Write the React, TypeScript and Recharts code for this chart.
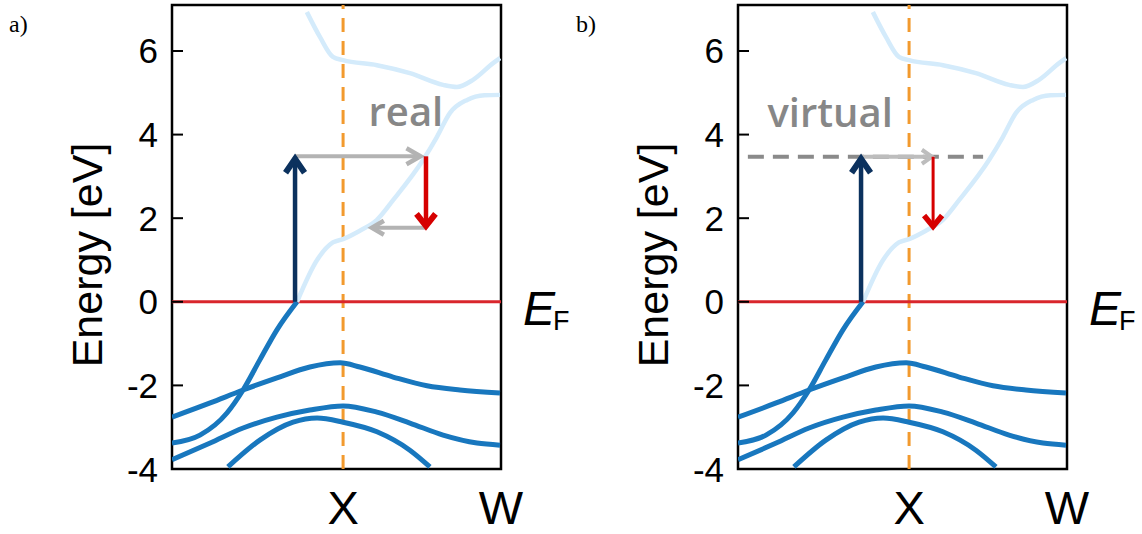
import React from 'react';
import { LineChart, Line, XAxis, YAxis, ReferenceLine, ReferenceArea, ReferenceDot } from 'recharts';

type P = { k: number; e: number };
const pts = (a: number[][]): P[] => a.map(([k, e]) => ({ k, e }));

// ---- axes ----
const kTicks = [0.52, 1.0];
const kTickLabels = ['X', 'W'];
const eTicks = [-4, -2, 0, 2, 4, 6];
const eDomain: [number, number] = [-4, 7.1];
const kDomain: [number, number] = [0, 1];
const kX = 0.52;
const eFermi = 0;

// ---- bands (k fraction of window, energy eV) ----
const bandSteep = [[0, -3.38], [0.085, -3.19], [0.167, -2.66], [0.216, -2.11], [0.267, -1.39], [0.319, -0.67], [0.38, 0]];
const bandCondLow = [[0.38, 0], [0.441, 1.0], [0.489, 1.42], [0.52, 1.5], [0.571, 1.7], [0.623, 1.96], [0.672, 2.43], [0.763, 3.39], [0.805, 3.94], [0.845, 4.52], [0.897, 4.83], [0.95, 4.94], [0.997, 4.95]];
const bandCondHigh = [[0.41, 6.93], [0.45, 6.33], [0.489, 5.86], [0.52, 5.78], [0.623, 5.66], [0.723, 5.47], [0.824, 5.19], [0.866, 5.14], [0.915, 5.31], [0.976, 5.71], [0.997, 5.83]];
const bandVal1 = [[0, -2.76], [0.116, -2.42], [0.216, -2.11], [0.319, -1.82], [0.419, -1.56], [0.511, -1.46], [0.571, -1.56], [0.672, -1.8], [0.775, -2.01], [0.875, -2.11], [0.997, -2.18]];
const bandVal2 = [[0, -3.78], [0.116, -3.38], [0.216, -3.02], [0.319, -2.76], [0.419, -2.59], [0.52, -2.49], [0.623, -2.64], [0.723, -2.9], [0.824, -3.19], [0.927, -3.38], [0.997, -3.43]];
const bandVal3 = [[0.17, -3.95], [0.267, -3.31], [0.368, -2.88], [0.441, -2.78], [0.52, -2.88], [0.623, -3.11], [0.723, -3.55], [0.784, -3.95]];

// ---- panel a: real transitions ----
const realExcite = [[0.374, 0], [0.374, 3.55]];
const realScatter = [[0.374, 3.48], [0.769, 3.48]];
const realRelax = [[0.772, 3.48], [0.772, 1.7]];
const realBack = [[0.772, 1.77], [0.594, 1.77]];
const realLabel = { k: 0.711, e: 4.2, text: 'real' };

// ---- panel b: virtual transitions ----
const virtExcite = [[0.374, 0], [0.374, 3.55]];
const virtLevel = [[0.03, 3.47], [0.745, 3.47]];
const virtScatter = [[0.374, 3.47], [0.6, 3.47]];
const virtRelax = [[0.593, 3.47], [0.593, 1.7]];
const virtLabel = { k: 0.28, e: 4.18, text: 'virtual' };

const C = {
  band: '#1877be',
  light: '#d4ebfb',
  fermi: '#d9262c',
  orange: '#f29a2e',
  navy: '#0b315e',
  gray: '#b3b3b3',
  red: '#d60000',
  text: '#878787',
  dashed: '#8a8a8a',
};

const SANS = '"Liberation Sans", Arial, sans-serif';

function unit(x1: number, y1: number, x2: number, y2: number) {
  const dx = x2 - x1, dy = y2 - y1;
  const L = Math.hypot(dx, dy) || 1;
  return { ux: dx / L, uy: dy / L, px: -dy / L, py: dx / L };
}

// chevron-headed arrow; apex of the stroked head lands on (x2, y2)
const chevronArrow = (color: string, width: number, headWidth: number, len: number, half: number) => (p: any) => {
  const { x1, y1, x2, y2 } = p;
  const { ux, uy, px, py } = unit(x1, y1, x2, y2);
  const th = Math.atan2(half, len);
  const ext = headWidth / 2 / Math.sin(th);
  const vx = x2 - ux * ext, vy = y2 - uy * ext;
  const bx = vx - ux * len, by = vy - uy * len;
  return (
    <g>
      <line x1={x1} y1={y1} x2={vx} y2={vy} stroke={color} strokeWidth={width} />
      <polyline
        points={`${bx + px * half},${by + py * half} ${vx},${vy} ${bx - px * half},${by - py * half}`}
        fill="none"
        stroke={color}
        strokeWidth={headWidth}
        strokeLinejoin="miter"
        strokeMiterlimit={10}
      />
    </g>
  );
};

const dashedLine = (color: string, width: number) => (p: any) => (
  <line x1={p.x1} y1={p.y1} x2={p.x2} y2={p.y2} stroke={color} strokeWidth={width} strokeDasharray="16 9" />
);

const seg = (a: number[][]) => [{ x: a[0][0], y: a[0][1] }, { x: a[1][0], y: a[1][1] }];

const YTick = (props: any) => {
  const { x, y, payload } = props;
  return (
    <g>
      <text x={x} y={y} textAnchor="end" dominantBaseline="central" fontSize={35} fontFamily={SANS} fill="#000">
        {payload.value}
      </text>
      <line x1={x + 14} x2={x + 25} y1={y} y2={y} stroke="#000" strokeWidth={2} />
    </g>
  );
};

const XTick = (props: any) => {
  const { x, y, payload } = props;
  const i = kTicks.indexOf(payload.value);
  return (
    <text x={x} y={y} dy="0.72em" textAnchor="middle" fontSize={47} fontFamily={SANS} fill="#000">
      {kTickLabels[i]}
    </text>
  );
};

const YLabel = (props: any) => {
  const vb = props.viewBox;
  const cx = vb.x + 87;
  const cy = vb.y + vb.height / 2 + 18;
  return (
    <text x={cx} y={cy} transform={`rotate(-90, ${cx}, ${cy})`} textAnchor="middle" dominantBaseline="central" fontSize={43} fontFamily={SANS} fill="#000">
      Energy [eV]
    </text>
  );
};

const FermiLabel = (props: any) => {
  const vb = props.viewBox;
  const x = vb.x + vb.width + 22;
  const y = vb.y + 23;
  return (
    <g>
      <text x={x} y={y} fontSize={48} fontStyle="italic" fontFamily={SANS} fill="#000">E</text>
      <text x={x + 30} y={y + 5} fontSize={27} fontFamily={SANS} fill="#000">F</text>
    </g>
  );
};

const textShape = (text: string) => (p: any) => (
  <text x={p.cx} y={p.cy} textAnchor="middle" fontSize={40} fontWeight={600} fontFamily='"Open Sans", "Noto Sans", sans-serif' fill={C.text}>
    {text}
  </text>
);

function Panel({ kind }: { kind: 'a' | 'b' }) {
  return (
    <LineChart width={570} height={534} margin={{ top: 5, right: 69, bottom: 0, left: 0 }}>
      <XAxis
        type="number"
        dataKey="k"
        domain={kDomain}
        ticks={kTicks}
        allowDataOverflow
        axisLine={false}
        tickLine={false}
        tickSize={0}
        tickMargin={21}
        height={65}
        tick={XTick}
        interval={0}
      />
      <YAxis
        type="number"
        dataKey="e"
        domain={eDomain}
        ticks={eTicks}
        allowDataOverflow
        axisLine={false}
        tickLine={false}
        tickSize={0}
        tickMargin={14}
        width={172}
        tick={YTick}
        interval={0}
        label={{ content: YLabel } as any}
      />
      <ReferenceLine x={kX} stroke={C.orange} strokeWidth={3} strokeDasharray="14 9" />
      <ReferenceLine y={eFermi} stroke={C.fermi} strokeWidth={3} label={{ content: FermiLabel } as any} />
      <Line data={pts(bandCondHigh)} dataKey="e" type="monotone" stroke={C.light} strokeWidth={4.5} dot={false} activeDot={false} isAnimationActive={false} />
      <Line data={pts(bandCondLow)} dataKey="e" type="monotone" stroke={C.light} strokeWidth={4.5} dot={false} activeDot={false} isAnimationActive={false} />
      <Line data={pts(bandVal3)} dataKey="e" type="monotone" stroke={C.band} strokeWidth={5} dot={false} activeDot={false} isAnimationActive={false} />
      <Line data={pts(bandVal2)} dataKey="e" type="monotone" stroke={C.band} strokeWidth={5} dot={false} activeDot={false} isAnimationActive={false} />
      <Line data={pts(bandVal1)} dataKey="e" type="monotone" stroke={C.band} strokeWidth={5} dot={false} activeDot={false} isAnimationActive={false} />
      <Line data={pts(bandSteep)} dataKey="e" type="monotone" stroke={C.band} strokeWidth={5} dot={false} activeDot={false} isAnimationActive={false} />
      {kind === 'a' ? (
        <>
          <ReferenceLine segment={seg(realScatter)} shape={chevronArrow(C.gray, 4, 4.5, 14, 8)} />
          <ReferenceLine segment={seg(realBack)} shape={chevronArrow(C.gray, 4, 4.5, 12, 7)} />
          <ReferenceLine segment={seg(realRelax)} shape={chevronArrow(C.red, 4.5, 6, 12, 9.5)} />
          <ReferenceLine segment={seg(realExcite)} shape={chevronArrow(C.navy, 4.5, 6, 14, 9.5)} />
          <ReferenceDot x={realLabel.k} y={realLabel.e} r={0} shape={textShape(realLabel.text)} />
        </>
      ) : (
        <>
          <ReferenceLine segment={seg(virtLevel)} shape={dashedLine(C.dashed, 4)} />
          <ReferenceLine segment={seg(virtScatter)} shape={chevronArrow('#bdbdbd', 4, 4, 10, 7)} />
          <ReferenceLine segment={seg(virtRelax)} shape={chevronArrow(C.red, 3, 5.5, 11, 9)} />
          <ReferenceLine segment={seg(virtExcite)} shape={chevronArrow(C.navy, 4.5, 6, 14, 9.5)} />
          <ReferenceDot x={virtLabel.k} y={virtLabel.e} r={0} shape={textShape(virtLabel.text)} />
        </>
      )}
      <ReferenceArea x1={kDomain[0]} x2={kDomain[1]} y1={eDomain[0]} y2={eDomain[1]} fill="none" fillOpacity={0} stroke="#000" strokeWidth={2.5} />
    </LineChart>
  );
}

export default function App() {
  return (
    <div style={{ position: 'absolute', left: 0, top: 0, width: 1142, height: 534, background: '#fff' }}>
      <div style={{ position: 'absolute', left: 0, top: 0 }}>
        <Panel kind="a" />
      </div>
      <div style={{ position: 'absolute', left: 566, top: 0 }}>
        <Panel kind="b" />
      </div>
      <svg width={1142} height={534} style={{ position: 'absolute', left: 0, top: 0, pointerEvents: 'none' }}>
        <text x={9} y={32} fontSize={24} fontFamily='"Liberation Serif", "DejaVu Serif", serif' fill="#000">a)</text>
        <text x={576} y={32} fontSize={24} fontFamily='"Liberation Serif", "DejaVu Serif", serif' fill="#000">b)</text>
      </svg>
    </div>
  );
}
